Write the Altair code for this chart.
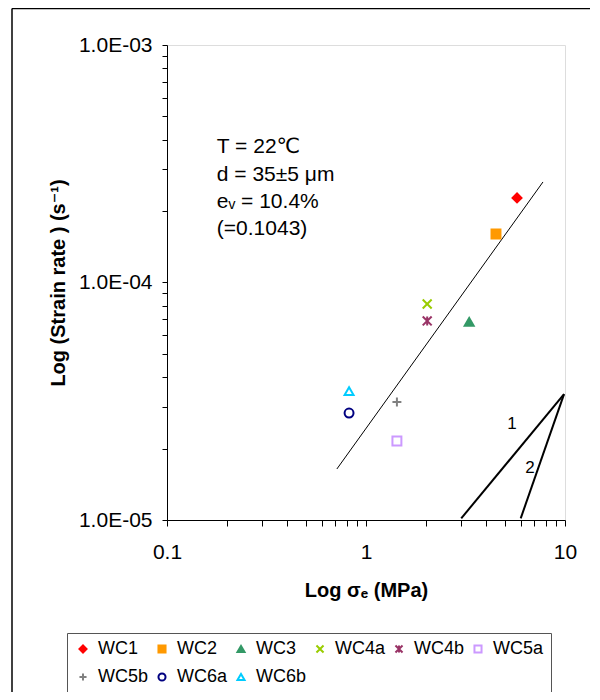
import altair as alt
import pandas as pd

FONT = "Liberation Sans, Arial, DejaVu Sans"

# --- data ---
series = ["WC1", "WC2", "WC3", "WC4a", "WC4b", "WC5a", "WC5b", "WC6a", "WC6b"]
sigma = [5.74, 4.50, 3.30, 2.03, 2.03, 1.43, 1.43, 0.822, 0.822]
rate = [2.27e-4, 1.60e-4, 6.82e-5, 8.12e-5, 6.89e-5, 2.15e-5, 3.14e-5, 2.82e-5, 3.49e-5]
stroke_colors = ["#FF0000", "#FF9900", "#339966", "#99CC00", "#993366",
                 "#CC99FF", "#808080", "#000080", "#00CCFF"]
fill_colors = ["#FF0000", "#FF9900", "#339966", "white", "white",
               "white", "white", "white", "white"]
shapes = ["diamond", "square", "triangle-up",
          "M-1,-1L1,1M-1,1L1,-1",
          "M-1,-1L1,1M-1,1L1,-1M0,-1L0,1",
          "square",
          "M-1,0L1,0M0,-1L0,1",
          "circle", "triangle-up"]

fit_x = [0.714, 7.75]
fit_y = [1.64e-5, 2.65e-4]

tri_seg = ["1", "1", "2", "2"]
tri_x = [3.01, 9.89, 5.99, 9.89]
tri_y = [1.016e-5, 3.39e-5, 1.016e-5, 3.39e-5]

slope_text = ["1", "2"]
slope_x = [5.42, 6.67]
slope_y = [2.54e-5, 1.66e-5]

note_text = ["T = 22℃", "d = 35±5 μm", "eᵥ = 10.4%", "(=0.1043)"]
note_x = [0.178, 0.178, 0.178, 0.178]
note_y = [3.72e-4, 2.83e-4, 2.18e-4, 1.68e-4]

x_ticks = [0.1, 0.2, 0.3, 0.4, 0.5, 0.6, 0.7, 0.8, 0.9,
           1, 2, 3, 4, 5, 6, 7, 8, 9, 10]
y_ticks = [1e-5, 2e-5, 3e-5, 4e-5, 5e-5, 6e-5, 7e-5, 8e-5, 9e-5,
           1e-4, 2e-4, 3e-4, 4e-4, 5e-4, 6e-4, 7e-4, 8e-4, 9e-4, 1e-3]

pts = pd.DataFrame({"series": series, "x": sigma, "y": rate})
fit = pd.DataFrame({"x": fit_x, "y": fit_y})
tri = pd.DataFrame({"seg": tri_seg, "x": tri_x, "y": tri_y})
slopes = pd.DataFrame({"t": slope_text, "x": slope_x, "y": slope_y})
notes = pd.DataFrame({"t": note_text, "x": note_x, "y": note_y})

decade = "abs(log(datum.value)/LN10 - round(log(datum.value)/LN10)) < 0.001"

X = alt.X("x:Q",
          scale=alt.Scale(type="log", domain=[0.1, 10], nice=False),
          axis=alt.Axis(values=x_ticks,
                        labelExpr=f"{decade} ? format(datum.value, '~g') : ''",
                        tickSize=6, labelPadding=15, labelFontSize=21,
                        labelFlush=False, labelOverlap=False,
                        title="Log σₑ (MPa)", titleFontSize=20,
                        titleFontWeight="bold", titleY=70,
                        titleBaseline="middle", grid=False,
                        domainColor="black", tickColor="black",
                        labelColor="black", titleColor="black",
                        labelFont=FONT, titleFont=FONT))
Y = alt.Y("y:Q",
          scale=alt.Scale(type="log", domain=[1e-5, 1e-3], nice=False),
          axis=alt.Axis(values=y_ticks,
                        labelExpr=f"{decade} ? '1.0E-0' + (-round(log(datum.value)/LN10)) : ''",
                        tickSize=5, labelPadding=10, labelFontSize=21,
                        labelOverlap=False, labelFlush=False,
                        title="Log (Strain rate ) (s⁻¹)", titleFontSize=20,
                        titleFontWeight="bold", titleAngle=270,
                        titleX=-109, titleY=237.5, titleBaseline="middle",
                        titleAlign="center", grid=False,
                        domainColor="black", tickColor="black",
                        labelColor="black", titleColor="black",
                        labelFont=FONT, titleFont=FONT))

legend = alt.Legend(orient="none", legendX=-100, legendY=588, columns=6,
                    direction="horizontal", gridAlign="all", title=None,
                    strokeColor="#555", fillColor="white", padding=7,
                    symbolSize=50, symbolStrokeWidth=2, labelFontSize=18,
                    labelFont=FONT, labelColor="black", columnPadding=4,
                    rowPadding=10, labelOffset=6, labelLimit=0)

points = alt.Chart(pts).mark_point(size=80, strokeWidth=2, opacity=1).encode(
    x=X, y=Y,
    shape=alt.Shape("series:N", scale=alt.Scale(domain=series, range=shapes),
                    legend=legend),
    stroke=alt.Stroke("series:N", scale=alt.Scale(domain=series, range=stroke_colors),
                      legend=legend),
    fill=alt.Fill("series:N", scale=alt.Scale(domain=series, range=fill_colors),
                  legend=legend),
)

fit_line = alt.Chart(fit).mark_line(color="black", strokeWidth=1).encode(x=X, y=Y)

tri_lines = alt.Chart(tri).mark_line(color="black", strokeWidth=2).encode(
    x=X, y=Y, detail="seg:N")

slope_labels = alt.Chart(slopes).mark_text(
    fontSize=17, font=FONT, color="black", align="center", baseline="middle"
).encode(x=X, y=Y, text="t:N")

note_labels = alt.Chart(notes).mark_text(
    fontSize=21, font=FONT, color="black", align="left", baseline="middle"
).encode(x=X, y=Y, text="t:N")

frame_df = pd.DataFrame({"a": [0]})
frame_left = alt.Chart(frame_df).mark_rule(color="black", strokeWidth=1.5).encode(
    x=alt.value(-155), y=alt.value(-36.5), y2=alt.value(700))
frame_top = alt.Chart(frame_df).mark_rule(color="black", strokeWidth=1.5).encode(
    x=alt.value(-155), x2=alt.value(600), y=alt.value(-36.5))

chart = alt.layer(
    frame_left, frame_top, fit_line, tri_lines, slope_labels, note_labels, points
).properties(
    width=398, height=475,
    autosize=alt.AutoSizeParams(type="none"),
    padding={"left": 159, "top": 37, "right": 25, "bottom": 172},
).configure_view(stroke=None).configure(background="white")

chart.save("out.html", embed_options={"renderer": "svg", "actions": False})
